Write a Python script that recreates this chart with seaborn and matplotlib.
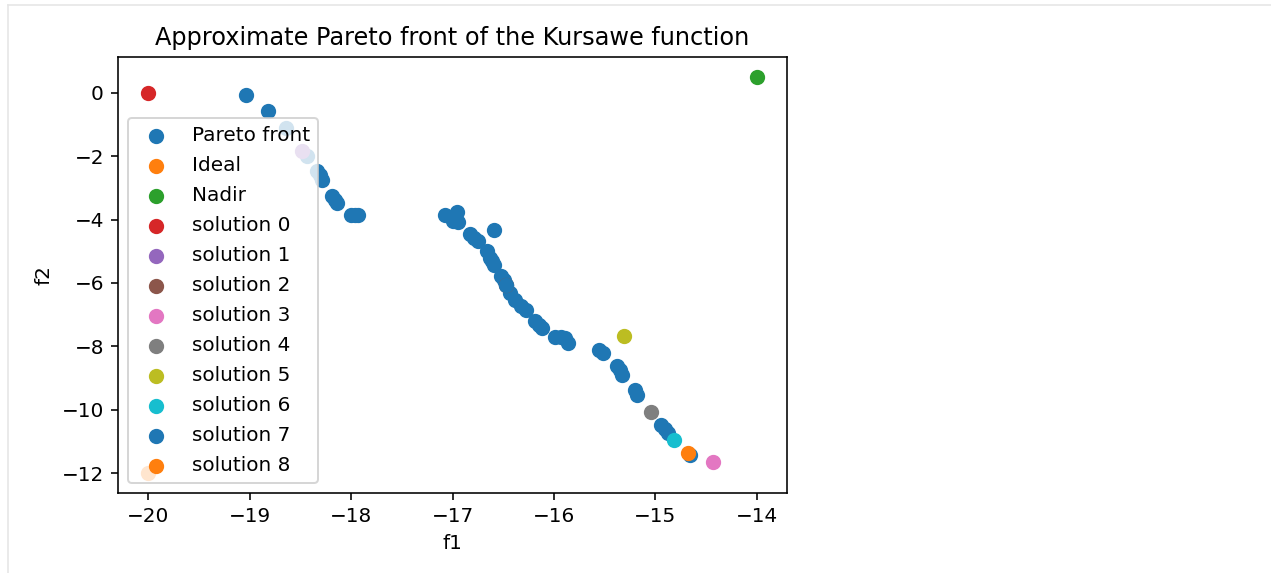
import matplotlib.pyplot as plt
import numpy as np
import pandas as pd
import seaborn as sns
from matplotlib.lines import Line2D

# Pareto front approximation (f1, f2)
front_f1 = [
    -19.04, -18.82, -18.64, -18.44, -18.34, -18.31, -18.29, -18.19, -18.16, -18.14,
    -18.00, -17.96, -17.93, -17.07, -16.96, -17.00, -16.95, -16.59, -16.83, -16.79,
    -16.75, -16.66, -16.63, -16.61, -16.59, -16.52, -16.49, -16.47, -16.43, -16.38,
    -16.32, -16.27, -16.19, -16.15, -16.12, -15.99, -15.93, -15.89, -15.86, -15.55,
    -15.52, -15.38, -15.35, -15.33, -15.20, -15.18, -14.94, -14.90, -14.875, -14.66,
]
front_f2 = [
    -0.07, -0.58, -1.10, -2.00, -2.47, -2.60, -2.74, -3.26, -3.37, -3.47,
    -3.86, -3.86, -3.86, -3.87, -3.77, -4.05, -4.09, -4.32, -4.47, -4.58,
    -4.69, -5.00, -5.21, -5.32, -5.42, -5.79, -5.92, -6.05, -6.31, -6.53,
    -6.74, -6.84, -7.21, -7.32, -7.42, -7.69, -7.72, -7.74, -7.88, -8.10,
    -8.21, -8.63, -8.76, -8.89, -9.37, -9.53, -10.47, -10.60, -10.73, -11.42,
]

ideal = (-20.0, -12.0)
nadir = (-14.0, 0.5)

# selected solutions 0..8
sol_f1 = [-20.0, -18.48, -16.47, -14.43, -15.045, -15.31, -14.81, -16.47, -14.675]
sol_f2 = [0.0, -1.84, -6.05, -11.65, -10.08, -7.66, -10.95, -6.05, -11.35]

fig = plt.figure(figsize=(1271 / 144, 573 / 144), dpi=144)
ax = fig.add_axes([118 / 1271, 80 / 573, 669 / 1271, 436 / 573])

kw = dict(s=44, edgecolor="face", linewidth=1, ax=ax)
sns.scatterplot(x=front_f1, y=front_f2, label="Pareto front", color="C0", **kw)
sns.scatterplot(x=[ideal[0]], y=[ideal[1]], label="Ideal", color="C1", **kw)
sns.scatterplot(x=[nadir[0]], y=[nadir[1]], label="Nadir", color="C2", **kw)
for i in range(len(sol_f1)):
    sns.scatterplot(x=[sol_f1[i]], y=[sol_f2[i]], label=f"solution {i}",
                    color=f"C{(i + 3) % 10}", **kw)

ax.set_title("Approximate Pareto front of the Kursawe function")
ax.set_xlabel("f1")
ax.set_ylabel("f2")
ax.legend(loc="lower left", labelspacing=0.55)

# faint output-cell border
fig.add_artist(Line2D([8 / 1271, 8 / 1271], [0, 1 - 5 / 573],
                      color="#e6e6e6", linewidth=0.8))
fig.add_artist(Line2D([8 / 1271, 1], [1 - 5 / 573, 1 - 5 / 573],
                      color="#e6e6e6", linewidth=0.8))

plt.savefig("out.png", dpi=144)
